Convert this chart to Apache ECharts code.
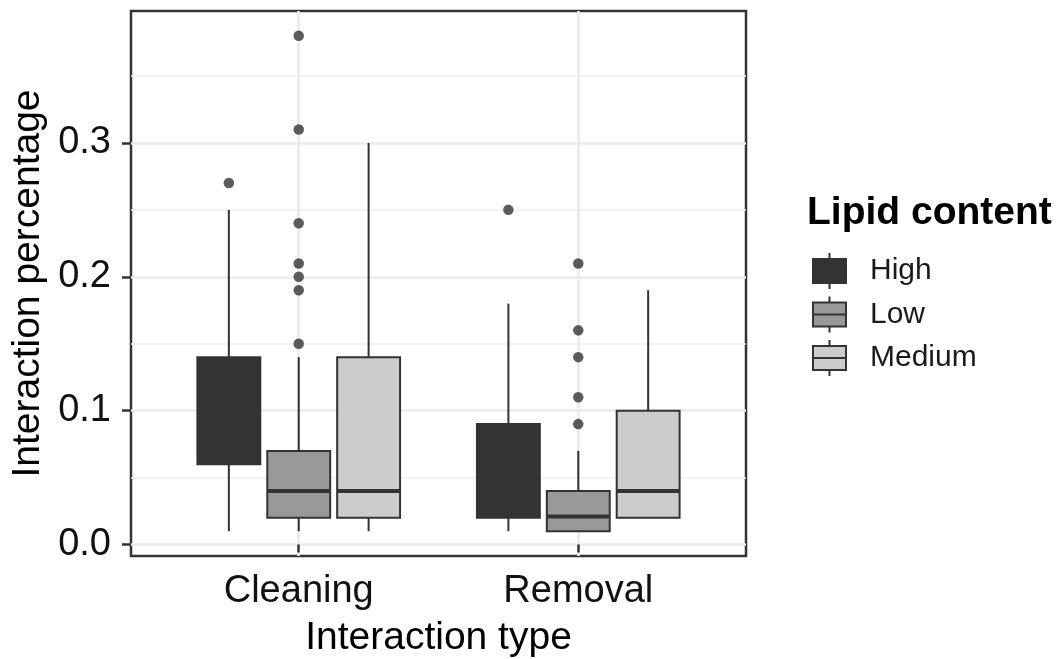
<!DOCTYPE html>
<html>
<head>
<meta charset="utf-8">
<script src="https://cdn.jsdelivr.net/npm/echarts@6/dist/echarts.min.js"></script>
<style>
  html, body { margin: 0; padding: 0; background: #ffffff; }
  #chart { width: 1058px; height: 659px; }
</style>
</head>
<body>
<div id="chart"></div>
<script>
// Interaction types on the x axis, lipid-content groups dodged within each
const categories = ['Cleaning', 'Removal'];
const groups = ['High', 'Low', 'Medium'];
const groupFills = ['#333333', '#999999', '#cccccc'];

// Box statistics per interaction type: [min, Q1, median, Q3, max]
const statsHigh   = [[0.01, 0.06, 0.10, 0.14, 0.25], [0.01, 0.02, 0.05, 0.09, 0.18]];
const statsLow    = [[0.01, 0.02, 0.04, 0.07, 0.14], [0.01, 0.01, 0.021, 0.04, 0.07]];
const statsMedium = [[0.01, 0.02, 0.04, 0.14, 0.30], [0.02, 0.02, 0.04, 0.10, 0.19]];

// Outlying observations per interaction type
const outliersHigh   = [[0.27], [0.25]];
const outliersLow    = [[0.38, 0.31, 0.24, 0.21, 0.20, 0.19, 0.15], [0.21, 0.16, 0.14, 0.11, 0.09]];
const outliersMedium = [[], []];

// Axis ticks
const yTicks = [0, 0.1, 0.2, 0.3];
const yMinorTicks = [0.05, 0.15, 0.25, 0.35];

const allStats = [statsHigh, statsLow, statsMedium];
const allOutliers = [outliersHigh, outliersLow, outliersMedium];

const FONT = '"Liberation Sans", Arial, sans-serif';
const INK = '#333333';
const dodgeStep = 0.25;        // distance between dodged boxes (x units)
const halfBox = 0.1125;        // half of the box width (x units)

function groupOffset(gi) {
  return (gi - (groups.length - 1) / 2) * dodgeStep;
}

function boxRenderer(gi) {
  const offset = groupOffset(gi);
  return function (params, api) {
    const xc = api.value(0) + 1 + offset;
    const pMin = api.coord([xc, api.value(1)]);
    const pQ1 = api.coord([xc - halfBox, api.value(2)]);
    const pMed = api.coord([xc, api.value(3)]);
    const pQ3 = api.coord([xc + halfBox, api.value(4)]);
    const pMax = api.coord([xc, api.value(5)]);
    const lineStyle = { stroke: INK, lineWidth: 2 };
    return {
      type: 'group',
      children: [
        { type: 'line', shape: { x1: pMed[0], y1: pMax[1], x2: pMed[0], y2: pQ3[1] }, style: lineStyle },
        { type: 'line', shape: { x1: pMed[0], y1: pQ1[1], x2: pMed[0], y2: pMin[1] }, style: lineStyle },
        {
          type: 'rect',
          shape: { x: pQ1[0], y: pQ3[1], width: pQ3[0] - pQ1[0], height: pQ1[1] - pQ3[1] },
          style: { fill: groupFills[gi], stroke: INK, lineWidth: 2 }
        },
        { type: 'line', shape: { x1: pQ1[0], y1: pMed[1], x2: pQ3[0], y2: pMed[1] }, style: { stroke: INK, lineWidth: 4 } }
      ]
    };
  };
}

const series = [];
groups.forEach(function (name, gi) {
  series.push({
    name: name,
    type: 'custom',
    renderItem: boxRenderer(gi),
    encode: { x: 0, y: [1, 2, 3, 4, 5] },
    itemStyle: { color: groupFills[gi], borderColor: INK, borderWidth: 2 },
    data: allStats[gi].map(function (s, ci) { return [ci].concat(s); }),
    z: 3,
    silent: true
  });
});

// Outlier points, placed at the dodged position of their box
const outlierPoints = [];
allOutliers.forEach(function (perCat, gi) {
  perCat.forEach(function (vals, ci) {
    vals.forEach(function (v) { outlierPoints.push([ci + 1 + groupOffset(gi), v]); });
  });
});
series.push({
  name: 'outliers',
  type: 'scatter',
  symbol: 'circle',
  symbolSize: 10.5,
  itemStyle: { color: INK },
  data: outlierPoints,
  z: 4,
  silent: true
});

// Legend key: box with median bar and whisker stubs
const keyIcon = 'path://M0 6 L33 6 L33 30 L0 30 Z M0 18 L33 18 M16.5 0 L16.5 6 M16.5 30 L16.5 36';

const chart = echarts.init(document.getElementById('chart'), null, { renderer: 'canvas' });
chart.setOption({
  animation: false,
  backgroundColor: '#ffffff',
  textStyle: { fontFamily: FONT },
  title: {
    text: 'Lipid content',
    left: 807,
    top: 194,
    padding: 0,
    textStyle: { fontFamily: FONT, fontSize: 39, fontWeight: 'bold', color: '#000000', lineHeight: 39 }
  },
  legend: {
    orient: 'vertical',
    left: 812,
    top: 252,
    padding: 0,
    itemWidth: 33,
    itemHeight: 36,
    itemGap: 5.5,
    selectedMode: false,
    textStyle: { fontFamily: FONT, fontSize: 30, color: '#1a1a1a', padding: [0, 0, 0, 19] },
    data: groups.map(function (name, gi) {
      return {
        name: name,
        icon: keyIcon,
        itemStyle: { color: groupFills[gi], borderColor: INK, borderWidth: 2 }
      };
    })
  },
  grid: {
    left: 131,
    right: 312,
    top: 11,
    bottom: 103,
    show: true,
    borderColor: INK,
    borderWidth: 2.5,
    backgroundColor: 'transparent',
    containLabel: false,
    outerBoundsMode: 'none'
  },
  xAxis: {
    type: 'value',
    min: 0.4,
    max: 2.6,
    name: 'Interaction type',
    nameLocation: 'middle',
    nameGap: 63,
    nameTextStyle: { fontFamily: FONT, fontSize: 39, color: '#000000' },
    axisLine: { show: false },
    axisTick: { show: true, length: 8, customValues: [1, 2], lineStyle: { color: INK, width: 2.5 } },
    axisLabel: {
      show: true,
      customValues: [1, 2],
      margin: 17,
      fontFamily: FONT,
      fontSize: 38,
      color: '#111111',
      formatter: function (v) { return categories[Math.round(v) - 1] || ''; }
    },
    splitLine: { show: true, lineStyle: { color: '#ebebeb', width: 2.7 } }
  },
  yAxis: [
    {
      type: 'value',
      min: -0.0085,
      max: 0.3985,
      name: 'Interaction percentage',
      nameLocation: 'middle',
      nameGap: 74,
      nameTextStyle: { fontFamily: FONT, fontSize: 39, color: '#000000' },
      axisLine: { show: false },
      axisTick: { show: true, length: 9, customValues: yTicks, lineStyle: { color: INK, width: 2.5 } },
      axisLabel: {
        show: true,
        customValues: yTicks,
        margin: 20,
        fontFamily: FONT,
        fontSize: 38,
        color: '#111111',
        formatter: function (v) { return v.toFixed(1); }
      },
      splitLine: { show: true, lineStyle: { color: '#ebebeb', width: 2.7 } }
    },
    {
      type: 'value',
      min: -0.0085,
      max: 0.3985,
      position: 'left',
      axisLine: { show: false },
      axisTick: { show: false, customValues: yMinorTicks },
      axisLabel: { show: false, customValues: yMinorTicks },
      splitLine: { show: true, lineStyle: { color: '#efefef', width: 1.5 } }
    }
  ],
  series: series
});
</script>
</body>
</html>
